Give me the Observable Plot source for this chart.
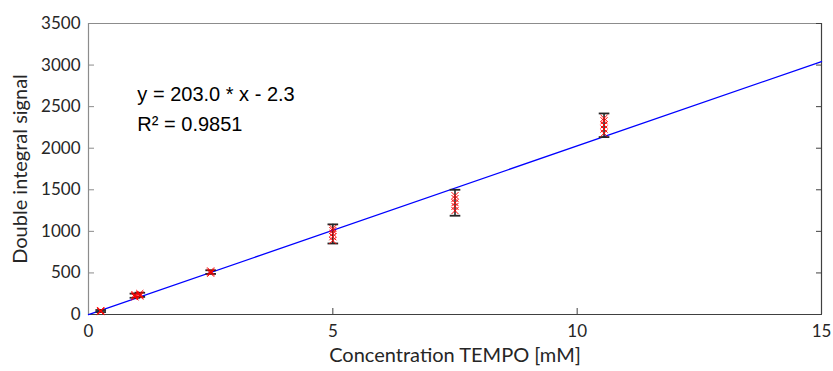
<!DOCTYPE html>
<html>
<head>
<meta charset="utf-8">
<script src="https://cdn.jsdelivr.net/npm/d3@7"></script>
<script src="https://cdn.jsdelivr.net/npm/@observablehq/plot@0.6"></script>
<style>
  html, body { margin: 0; padding: 0; background: #fff; }
  #chart { width: 833px; height: 371px; }
</style>
</head>
<body>
<div id="chart"></div>
<script>
// Concentrations (mM) of each sample group
const conc = [0.25, 0.95, 1.05, 2.5, 5.0, 7.5, 10.55];
// Replicate measurements (double integral signal) per group
const replicates = [
  [35, 42, 48],
  [212, 226, 240],
  [222, 236, 252],
  [496, 510, 524],
  [890, 935, 975, 1010, 1035],
  [1250, 1300, 1345, 1395, 1430],
  [2180, 2230, 2280, 2330, 2360]
];
// Error bar half-widths
const errHalf = [12, 25, 25, 22, 115, 156, 142];
// Linear fit
const slope = 203.0;
const intercept = -2.3;
const fitX = [0, 15];
const fitLabel = "y = 203.0 * x - 2.3";
const r2Label = "R² = 0.9851";
const xLabel = "Concentration TEMPO [mM]";
const yLabel = "Double integral signal";
const xTicks = [0, 5, 10, 15];
const yTicks = [0, 500, 1000, 1500, 2000, 2500, 3000, 3500];

const points = conc.flatMap((c, i) => replicates[i].map(v => ({x: c, y: v})));
const groups = conc.map((c, i) => {
  const m = d3.mean(replicates[i]);
  return {x: c, mean: m, lo: m - errHalf[i], hi: m + errHalf[i]};
});
const fit = fitX.map(x => ({x, y: slope * x + intercept}));

const capSymbol = {
  draw(ctx, size) {
    const w = Math.sqrt(size) / 2;
    ctx.moveTo(-w, 0);
    ctx.lineTo(w, 0);
  }
};

const grey = "#8c8c8c";
const dark = "#404040";
const fmt = d3.format("d");

const chart = Plot.plot({
  width: 833,
  height: 371,
  marginLeft: 88,
  marginRight: 12,
  marginTop: 23,
  marginBottom: 57,
  style: {background: "#fff", color: "#262626", fontFamily: "Lato", fontSize: "17px"},
  x: {domain: [0, 15]},
  y: {domain: [0, 3500]},
  marks: [
    Plot.ruleY([3500], {stroke: grey, strokeWidth: 1.2}),
    Plot.ruleX([15], {stroke: dark, strokeWidth: 1.2}),
    Plot.axisX({anchor: "bottom", ticks: xTicks, tickFormat: fmt, tickSize: -6, tickPadding: 16, stroke: dark, fontSize: 17, label: null}),
    Plot.axisY({anchor: "left", ticks: yTicks, tickFormat: fmt, tickSize: -6, tickPadding: 14, stroke: grey, fontSize: 17, label: null}),
    Plot.axisY({anchor: "right", ticks: yTicks, tickSize: -6, stroke: dark, tickFormat: () => "", label: null}),
    Plot.text([xLabel], {text: d => d, frameAnchor: "bottom", textAnchor: "middle", dy: 47, fontSize: 20, fontFamily: "Lato", fill: "#262626"}),
    Plot.text([yLabel], {text: d => d, frameAnchor: "left", textAnchor: "middle", rotate: -90, dx: -68, fontSize: 20, fontFamily: "Lato", fill: "#262626"}),
    Plot.ruleX([0], {stroke: grey, strokeWidth: 1.2}),
    Plot.ruleY([0], {stroke: dark, strokeWidth: 1.2}),
    Plot.line(fit, {x: "x", y: "y", stroke: "#0000ff", strokeWidth: 1.3}),
    Plot.ruleX(groups, {x: "x", y1: "lo", y2: "hi", stroke: "#262626", strokeWidth: 1.6}),
    Plot.dot(groups, {x: "x", y: "lo", symbol: capSymbol, r: 6, stroke: "#262626", strokeWidth: 1.8}),
    Plot.dot(groups, {x: "x", y: "hi", symbol: capSymbol, r: 6, stroke: "#262626", strokeWidth: 1.8}),
    Plot.dot(points, {x: "x", y: "y", symbol: "times", r: 3.3, stroke: "#ff0000", strokeWidth: 1}),
    Plot.text([fitLabel], {x: 1.0, y: 2640, text: d => d, textAnchor: "start", fontFamily: "Liberation Sans", fontSize: 20, fill: "#000"}),
    Plot.text([r2Label], {x: 1.0, y: 2290, text: d => d, textAnchor: "start", fontFamily: "Liberation Sans", fontSize: 20, fill: "#000"})
  ]
});
document.getElementById("chart").appendChild(chart);
</script>
</body>
</html>
